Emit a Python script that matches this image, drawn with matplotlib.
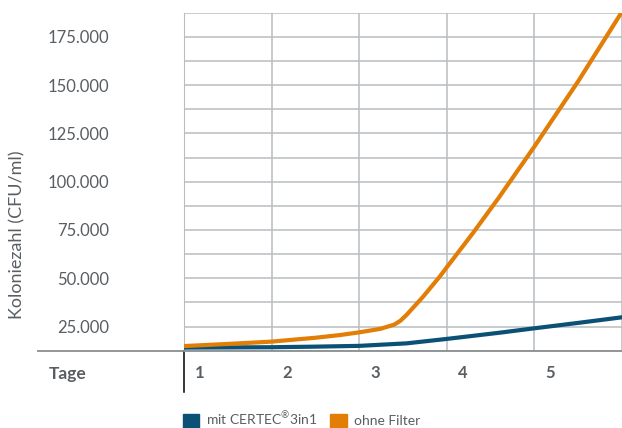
import matplotlib.pyplot as plt
import matplotlib.transforms as mtransforms
from matplotlib.patches import Patch

# values
days_grid = [1, 2, 3, 4, 5, 6]
day_labels = ["1", "2", "3", "4", "5"]
y_ticks = [25000, 50000, 75000, 100000, 125000, 150000, 175000]

certec_days = [1.0, 1.5, 2.0, 2.5, 3.0, 3.54, 4.0, 4.6, 5.0, 5.5, 6.0]
certec_cfu = [14100, 14200, 14300, 14600, 15000, 16300, 18600, 21800, 24100, 26900, 29800]

ohne_days = [1.0, 1.5, 2.0, 2.5, 2.78, 3.0, 3.24, 3.4, 3.47, 3.54, 3.73, 3.92,
             4.0, 4.3, 4.59, 5.0, 5.5, 6.0]
ohne_cfu = [14900, 16000, 17200, 19200, 20600, 22000, 23800, 26000, 28000, 31000,
            40500, 50900, 55700, 73500, 91500, 118200, 152000, 188000]

BLUE = "#0b5176"
ORANGE = "#e27d05"
TEXT = "#595e63"
GRID = "#b9bdc0"

plt.rcParams["font.family"] = ["Lato", "DejaVu Sans"]
plt.rcParams["mathtext.fontset"] = "custom"
plt.rcParams["mathtext.rm"] = "Lato"

fig = plt.figure(figsize=(6.22, 4.28), dpi=100)
ax = fig.add_axes([184 / 622, 1 - 350.7 / 428, 1 - 184 / 622, 338 / 428])

ax.plot(certec_days, certec_cfu, color=BLUE, lw=3.0, solid_joinstyle="round", zorder=3)
ax.plot(ohne_days, ohne_cfu, color=ORANGE, lw=3.0, solid_joinstyle="round", zorder=4)

ax.set_xlim(1, 6)
ax.set_ylim(12500, 187500)

# grid: vertical at each day, horizontal every 12.500
ax.set_yticks(y_ticks)
ax.set_yticks([v for v in range(12500, 187501, 12500) if v not in y_ticks], minor=True)
ax.set_yticklabels([f"{v:,}".replace(",", ".") for v in y_ticks])
ax.set_xticks(days_grid)
ax.set_xticklabels(day_labels + [""])
ax.grid(True, color=GRID, lw=1.1, zorder=0)
ax.grid(True, which="minor", axis="y", color=GRID, lw=1.1, zorder=0)

ax.tick_params(axis="x", length=0, pad=10, labelsize=12, labelcolor=TEXT)
ax.tick_params(axis="y", which="both", length=0, pad=54, labelsize=12, labelcolor=TEXT)
for lab in ax.get_xticklabels():
    lab.set_fontweight("bold")
    lab.set_horizontalalignment("left")
    lab.set_transform(lab.get_transform() +
                      mtransforms.ScaledTranslation(11 / 100, 0, fig.dpi_scale_trans))

for side in ["top", "right"]:
    ax.spines[side].set_visible(False)
ax.spines["left"].set_color(GRID)
ax.spines["bottom"].set_color("#8a8e91")
ax.spines["bottom"].set_linewidth(1.3)

# baseline extends to the left under the axis labels, black tick at day 1
ax.axhline(12500, xmin=-146 / 438, xmax=0, color="#8a8e91", lw=1.3, clip_on=False)
ax.axvline(1, ymin=-41.5 / 338, ymax=0, color="black", lw=1.1, clip_on=False)

fig.text(49 / 622, 1 - 374 / 428, "Tage", fontsize=12.5, fontweight="bold",
         color=TEXT, va="center", ha="left")
fig.text(17 / 622, 1 - 235 / 428, "Koloniezahl (CFU/ml)", fontsize=13,
         color=TEXT, rotation=90, va="center", ha="center")

handles = [Patch(color=BLUE, label="mit CERTEC$^{\u00ae}$3in1"),
           Patch(color=ORANGE, label="ohne Filter")]
fig.legend(handles=handles, loc="lower left", bbox_to_anchor=(170 / 622, -0.03),
           ncol=2, frameon=False, fontsize=10, labelcolor=TEXT,
           handlelength=1.2, handleheight=1.2, handletextpad=0.5, columnspacing=0.9)

fig.savefig("out.png", dpi=100)
